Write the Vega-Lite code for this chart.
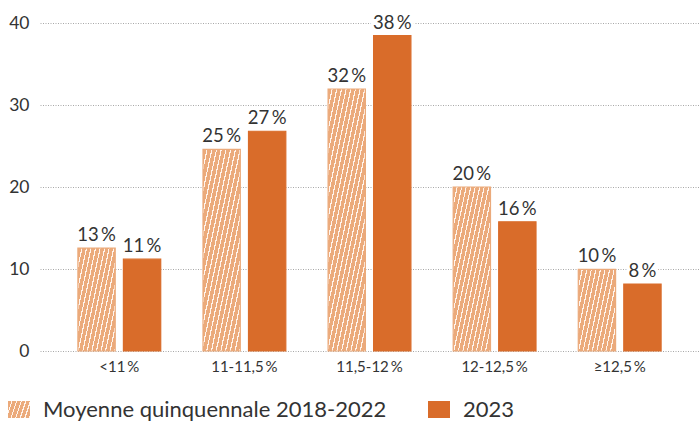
{
  "$schema": "https://vega.github.io/schema/vega-lite/v6.json",
  "autosize": {"type": "none"},
  "width": 659,
  "height": 328,
  "padding": {"left": 40, "top": 23, "right": 0, "bottom": 77},
  "background": "#ffffff",
  "config": {
    "font": "Lato",
    "view": {"stroke": null}
  },
  "data": {
    "values": [
      {"cat": "<11\u2009%", "serie": "Moyenne quinquennale 2018-2022", "v": 12.55, "label": "13\u2009%"},
      {"cat": "<11\u2009%", "serie": "2023", "v": 11.2, "label": "11\u2009%"},
      {"cat": "11-11,5\u2009%", "serie": "Moyenne quinquennale 2018-2022", "v": 24.6, "label": "25\u2009%"},
      {"cat": "11-11,5\u2009%", "serie": "2023", "v": 26.8, "label": "27\u2009%"},
      {"cat": "11,5-12\u2009%", "serie": "Moyenne quinquennale 2018-2022", "v": 31.95, "label": "32\u2009%"},
      {"cat": "11,5-12\u2009%", "serie": "2023", "v": 38.45, "label": "38\u2009%"},
      {"cat": "12-12,5\u2009%", "serie": "Moyenne quinquennale 2018-2022", "v": 20.0, "label": "20\u2009%"},
      {"cat": "12-12,5\u2009%", "serie": "2023", "v": 15.75, "label": "16\u2009%"},
      {"cat": "≥12,5\u2009%", "serie": "Moyenne quinquennale 2018-2022", "v": 9.96, "label": "10\u2009%"},
      {"cat": "≥12,5\u2009%", "serie": "2023", "v": 8.17, "label": "8\u2009%"}
    ]
  },
  "encoding": {
    "x": {
      "field": "cat", "type": "nominal", "sort": null,
      "scale": {"paddingInner": 0.338, "paddingOuter": 0.303},
      "axis": {"title": null, "domain": false, "ticks": false, "labelAngle": 0, "labelFontSize": 15, "labelColor": "#333333", "labelPadding": 8}
    },
    "xOffset": {
      "field": "serie", "type": "nominal", "sort": ["Moyenne quinquennale 2018-2022", "2023"],
      "scale": {"paddingInner": 0.18}
    },
    "y": {
      "field": "v", "type": "quantitative",
      "scale": {"domain": [0, 40], "nice": false},
      "axis": {"title": null, "domain": false, "ticks": false, "values": [0, 10, 20, 30, 40], "labelFontSize": 17.5, "labelColor": "#333333", "labelPadding": 11, "gridColor": "#a8a8a8", "gridDash": [1, 1.5], "gridWidth": 1}
    }
  },
  "layer": [
    {
      "mark": {"type": "bar", "strokeWidth": 1.2},
      "encoding": {
        "fill": {
          "condition": [
            {
              "test": "false",
              "value": {
                "gradient": "linear", "x1": 0, "y1": 0, "x2": 1.18, "y2": 0.305,
                "stops": [
                  {"offset": 0, "color": "#EBAA7B"}, {"offset": 0.125, "color": "#EBAA7B"}, {"offset": 0.125, "color": "#FFF4EC"}, {"offset": 0.1667, "color": "#FFF4EC"},
                  {"offset": 0.1667, "color": "#EBAA7B"}, {"offset": 0.2917, "color": "#EBAA7B"}, {"offset": 0.2917, "color": "#FFF4EC"}, {"offset": 0.3333, "color": "#FFF4EC"},
                  {"offset": 0.3333, "color": "#EBAA7B"}, {"offset": 0.4583, "color": "#EBAA7B"}, {"offset": 0.4583, "color": "#FFF4EC"}, {"offset": 0.5, "color": "#FFF4EC"},
                  {"offset": 0.5, "color": "#EBAA7B"}, {"offset": 0.625, "color": "#EBAA7B"}, {"offset": 0.625, "color": "#FFF4EC"}, {"offset": 0.6667, "color": "#FFF4EC"},
                  {"offset": 0.6667, "color": "#EBAA7B"}, {"offset": 0.7917, "color": "#EBAA7B"}, {"offset": 0.7917, "color": "#FFF4EC"}, {"offset": 0.8333, "color": "#FFF4EC"},
                  {"offset": 0.8333, "color": "#EBAA7B"}, {"offset": 0.9583, "color": "#EBAA7B"}, {"offset": 0.9583, "color": "#FFF4EC"}, {"offset": 1, "color": "#FFF4EC"}
                ]
              }
            },
            {
              "test": "datum.label === '10\u2009%'",
              "value": {
                "gradient": "linear", "x1": 0, "y1": 0, "x2": 1.2044, "y2": 0.5613,
                "stops": [
                  {"offset": 0, "color": "#EBAA7B"}, {"offset": 0.0625, "color": "#EBAA7B"}, {"offset": 0.0625, "color": "#FFF4EC"}, {"offset": 0.08333, "color": "#FFF4EC"},
                  {"offset": 0.08333, "color": "#EBAA7B"}, {"offset": 0.14583, "color": "#EBAA7B"}, {"offset": 0.14583, "color": "#FFF4EC"}, {"offset": 0.16667, "color": "#FFF4EC"},
                  {"offset": 0.16667, "color": "#EBAA7B"}, {"offset": 0.22917, "color": "#EBAA7B"}, {"offset": 0.22917, "color": "#FFF4EC"}, {"offset": 0.25, "color": "#FFF4EC"},
                  {"offset": 0.25, "color": "#EBAA7B"}, {"offset": 0.3125, "color": "#EBAA7B"}, {"offset": 0.3125, "color": "#FFF4EC"}, {"offset": 0.33333, "color": "#FFF4EC"},
                  {"offset": 0.33333, "color": "#EBAA7B"}, {"offset": 0.39583, "color": "#EBAA7B"}, {"offset": 0.39583, "color": "#FFF4EC"}, {"offset": 0.41667, "color": "#FFF4EC"},
                  {"offset": 0.41667, "color": "#EBAA7B"}, {"offset": 0.47917, "color": "#EBAA7B"}, {"offset": 0.47917, "color": "#FFF4EC"}, {"offset": 0.5, "color": "#FFF4EC"},
                  {"offset": 0.5, "color": "#EBAA7B"}, {"offset": 0.5625, "color": "#EBAA7B"}, {"offset": 0.5625, "color": "#FFF4EC"}, {"offset": 0.58333, "color": "#FFF4EC"},
                  {"offset": 0.58333, "color": "#EBAA7B"}, {"offset": 0.64583, "color": "#EBAA7B"}, {"offset": 0.64583, "color": "#FFF4EC"}, {"offset": 0.66667, "color": "#FFF4EC"},
                  {"offset": 0.66667, "color": "#EBAA7B"}, {"offset": 0.72917, "color": "#EBAA7B"}, {"offset": 0.72917, "color": "#FFF4EC"}, {"offset": 0.75, "color": "#FFF4EC"},
                  {"offset": 0.75, "color": "#EBAA7B"}, {"offset": 0.8125, "color": "#EBAA7B"}, {"offset": 0.8125, "color": "#FFF4EC"}, {"offset": 0.83333, "color": "#FFF4EC"},
                  {"offset": 0.83333, "color": "#EBAA7B"}, {"offset": 0.89583, "color": "#EBAA7B"}, {"offset": 0.89583, "color": "#FFF4EC"}, {"offset": 0.91667, "color": "#FFF4EC"},
                  {"offset": 0.91667, "color": "#EBAA7B"}, {"offset": 0.97917, "color": "#EBAA7B"}, {"offset": 0.97917, "color": "#FFF4EC"}, {"offset": 1, "color": "#FFF4EC"}
                ]
              }
            },
            {
              "test": "datum.label === '13\u2009%'",
              "value": {
                "gradient": "linear", "x1": 0, "y1": 0, "x2": 1.1803, "y2": 0.6928,
                "stops": [
                  {"offset": 0, "color": "#EBAA7B"}, {"offset": 0.05769, "color": "#EBAA7B"}, {"offset": 0.05769, "color": "#FFF4EC"}, {"offset": 0.07692, "color": "#FFF4EC"},
                  {"offset": 0.07692, "color": "#EBAA7B"}, {"offset": 0.13462, "color": "#EBAA7B"}, {"offset": 0.13462, "color": "#FFF4EC"}, {"offset": 0.15385, "color": "#FFF4EC"},
                  {"offset": 0.15385, "color": "#EBAA7B"}, {"offset": 0.21154, "color": "#EBAA7B"}, {"offset": 0.21154, "color": "#FFF4EC"}, {"offset": 0.23077, "color": "#FFF4EC"},
                  {"offset": 0.23077, "color": "#EBAA7B"}, {"offset": 0.28846, "color": "#EBAA7B"}, {"offset": 0.28846, "color": "#FFF4EC"}, {"offset": 0.30769, "color": "#FFF4EC"},
                  {"offset": 0.30769, "color": "#EBAA7B"}, {"offset": 0.36538, "color": "#EBAA7B"}, {"offset": 0.36538, "color": "#FFF4EC"}, {"offset": 0.38462, "color": "#FFF4EC"},
                  {"offset": 0.38462, "color": "#EBAA7B"}, {"offset": 0.44231, "color": "#EBAA7B"}, {"offset": 0.44231, "color": "#FFF4EC"}, {"offset": 0.46154, "color": "#FFF4EC"},
                  {"offset": 0.46154, "color": "#EBAA7B"}, {"offset": 0.51923, "color": "#EBAA7B"}, {"offset": 0.51923, "color": "#FFF4EC"}, {"offset": 0.53846, "color": "#FFF4EC"},
                  {"offset": 0.53846, "color": "#EBAA7B"}, {"offset": 0.59615, "color": "#EBAA7B"}, {"offset": 0.59615, "color": "#FFF4EC"}, {"offset": 0.61538, "color": "#FFF4EC"},
                  {"offset": 0.61538, "color": "#EBAA7B"}, {"offset": 0.67308, "color": "#EBAA7B"}, {"offset": 0.67308, "color": "#FFF4EC"}, {"offset": 0.69231, "color": "#FFF4EC"},
                  {"offset": 0.69231, "color": "#EBAA7B"}, {"offset": 0.75, "color": "#EBAA7B"}, {"offset": 0.75, "color": "#FFF4EC"}, {"offset": 0.76923, "color": "#FFF4EC"},
                  {"offset": 0.76923, "color": "#EBAA7B"}, {"offset": 0.82692, "color": "#EBAA7B"}, {"offset": 0.82692, "color": "#FFF4EC"}, {"offset": 0.84615, "color": "#FFF4EC"},
                  {"offset": 0.84615, "color": "#EBAA7B"}, {"offset": 0.90385, "color": "#EBAA7B"}, {"offset": 0.90385, "color": "#FFF4EC"}, {"offset": 0.92308, "color": "#FFF4EC"},
                  {"offset": 0.92308, "color": "#EBAA7B"}, {"offset": 0.98077, "color": "#EBAA7B"}, {"offset": 0.98077, "color": "#FFF4EC"}, {"offset": 1, "color": "#FFF4EC"}
                ]
              }
            },
            {
              "test": "datum.label === '20\u2009%'",
              "value": {
                "gradient": "linear", "x1": 0, "y1": 0, "x2": 1.0319, "y2": 0.9659,
                "stops": [
                  {"offset": 0, "color": "#EBAA7B"}, {"offset": 0.046875, "color": "#EBAA7B"}, {"offset": 0.046875, "color": "#FFF4EC"}, {"offset": 0.0625, "color": "#FFF4EC"},
                  {"offset": 0.0625, "color": "#EBAA7B"}, {"offset": 0.109375, "color": "#EBAA7B"}, {"offset": 0.109375, "color": "#FFF4EC"}, {"offset": 0.125, "color": "#FFF4EC"},
                  {"offset": 0.125, "color": "#EBAA7B"}, {"offset": 0.171875, "color": "#EBAA7B"}, {"offset": 0.171875, "color": "#FFF4EC"}, {"offset": 0.1875, "color": "#FFF4EC"},
                  {"offset": 0.1875, "color": "#EBAA7B"}, {"offset": 0.234375, "color": "#EBAA7B"}, {"offset": 0.234375, "color": "#FFF4EC"}, {"offset": 0.25, "color": "#FFF4EC"},
                  {"offset": 0.25, "color": "#EBAA7B"}, {"offset": 0.296875, "color": "#EBAA7B"}, {"offset": 0.296875, "color": "#FFF4EC"}, {"offset": 0.3125, "color": "#FFF4EC"},
                  {"offset": 0.3125, "color": "#EBAA7B"}, {"offset": 0.359375, "color": "#EBAA7B"}, {"offset": 0.359375, "color": "#FFF4EC"}, {"offset": 0.375, "color": "#FFF4EC"},
                  {"offset": 0.375, "color": "#EBAA7B"}, {"offset": 0.421875, "color": "#EBAA7B"}, {"offset": 0.421875, "color": "#FFF4EC"}, {"offset": 0.4375, "color": "#FFF4EC"},
                  {"offset": 0.4375, "color": "#EBAA7B"}, {"offset": 0.484375, "color": "#EBAA7B"}, {"offset": 0.484375, "color": "#FFF4EC"}, {"offset": 0.5, "color": "#FFF4EC"},
                  {"offset": 0.5, "color": "#EBAA7B"}, {"offset": 0.546875, "color": "#EBAA7B"}, {"offset": 0.546875, "color": "#FFF4EC"}, {"offset": 0.5625, "color": "#FFF4EC"},
                  {"offset": 0.5625, "color": "#EBAA7B"}, {"offset": 0.609375, "color": "#EBAA7B"}, {"offset": 0.609375, "color": "#FFF4EC"}, {"offset": 0.625, "color": "#FFF4EC"},
                  {"offset": 0.625, "color": "#EBAA7B"}, {"offset": 0.671875, "color": "#EBAA7B"}, {"offset": 0.671875, "color": "#FFF4EC"}, {"offset": 0.6875, "color": "#FFF4EC"},
                  {"offset": 0.6875, "color": "#EBAA7B"}, {"offset": 0.734375, "color": "#EBAA7B"}, {"offset": 0.734375, "color": "#FFF4EC"}, {"offset": 0.75, "color": "#FFF4EC"},
                  {"offset": 0.75, "color": "#EBAA7B"}, {"offset": 0.796875, "color": "#EBAA7B"}, {"offset": 0.796875, "color": "#FFF4EC"}, {"offset": 0.8125, "color": "#FFF4EC"},
                  {"offset": 0.8125, "color": "#EBAA7B"}, {"offset": 0.859375, "color": "#EBAA7B"}, {"offset": 0.859375, "color": "#FFF4EC"}, {"offset": 0.875, "color": "#FFF4EC"},
                  {"offset": 0.875, "color": "#EBAA7B"}, {"offset": 0.921875, "color": "#EBAA7B"}, {"offset": 0.921875, "color": "#FFF4EC"}, {"offset": 0.9375, "color": "#FFF4EC"},
                  {"offset": 0.9375, "color": "#EBAA7B"}, {"offset": 0.984375, "color": "#EBAA7B"}, {"offset": 0.984375, "color": "#FFF4EC"}, {"offset": 1, "color": "#FFF4EC"}
                ]
              }
            },
            {
              "test": "datum.label === '25\u2009%'",
              "value": {
                "gradient": "linear", "x1": 0, "y1": 0, "x2": 0.9252, "y2": 1.0649,
                "stops": [
                  {"offset": 0, "color": "#EBAA7B"}, {"offset": 0.04412, "color": "#EBAA7B"}, {"offset": 0.04412, "color": "#FFF4EC"}, {"offset": 0.05882, "color": "#FFF4EC"},
                  {"offset": 0.05882, "color": "#EBAA7B"}, {"offset": 0.10294, "color": "#EBAA7B"}, {"offset": 0.10294, "color": "#FFF4EC"}, {"offset": 0.11765, "color": "#FFF4EC"},
                  {"offset": 0.11765, "color": "#EBAA7B"}, {"offset": 0.16176, "color": "#EBAA7B"}, {"offset": 0.16176, "color": "#FFF4EC"}, {"offset": 0.17647, "color": "#FFF4EC"},
                  {"offset": 0.17647, "color": "#EBAA7B"}, {"offset": 0.22059, "color": "#EBAA7B"}, {"offset": 0.22059, "color": "#FFF4EC"}, {"offset": 0.23529, "color": "#FFF4EC"},
                  {"offset": 0.23529, "color": "#EBAA7B"}, {"offset": 0.27941, "color": "#EBAA7B"}, {"offset": 0.27941, "color": "#FFF4EC"}, {"offset": 0.29412, "color": "#FFF4EC"},
                  {"offset": 0.29412, "color": "#EBAA7B"}, {"offset": 0.33824, "color": "#EBAA7B"}, {"offset": 0.33824, "color": "#FFF4EC"}, {"offset": 0.35294, "color": "#FFF4EC"},
                  {"offset": 0.35294, "color": "#EBAA7B"}, {"offset": 0.39706, "color": "#EBAA7B"}, {"offset": 0.39706, "color": "#FFF4EC"}, {"offset": 0.41176, "color": "#FFF4EC"},
                  {"offset": 0.41176, "color": "#EBAA7B"}, {"offset": 0.45588, "color": "#EBAA7B"}, {"offset": 0.45588, "color": "#FFF4EC"}, {"offset": 0.47059, "color": "#FFF4EC"},
                  {"offset": 0.47059, "color": "#EBAA7B"}, {"offset": 0.51471, "color": "#EBAA7B"}, {"offset": 0.51471, "color": "#FFF4EC"}, {"offset": 0.52941, "color": "#FFF4EC"},
                  {"offset": 0.52941, "color": "#EBAA7B"}, {"offset": 0.57353, "color": "#EBAA7B"}, {"offset": 0.57353, "color": "#FFF4EC"}, {"offset": 0.58824, "color": "#FFF4EC"},
                  {"offset": 0.58824, "color": "#EBAA7B"}, {"offset": 0.63235, "color": "#EBAA7B"}, {"offset": 0.63235, "color": "#FFF4EC"}, {"offset": 0.64706, "color": "#FFF4EC"},
                  {"offset": 0.64706, "color": "#EBAA7B"}, {"offset": 0.69118, "color": "#EBAA7B"}, {"offset": 0.69118, "color": "#FFF4EC"}, {"offset": 0.70588, "color": "#FFF4EC"},
                  {"offset": 0.70588, "color": "#EBAA7B"}, {"offset": 0.75, "color": "#EBAA7B"}, {"offset": 0.75, "color": "#FFF4EC"}, {"offset": 0.76471, "color": "#FFF4EC"},
                  {"offset": 0.76471, "color": "#EBAA7B"}, {"offset": 0.80882, "color": "#EBAA7B"}, {"offset": 0.80882, "color": "#FFF4EC"}, {"offset": 0.82353, "color": "#FFF4EC"},
                  {"offset": 0.82353, "color": "#EBAA7B"}, {"offset": 0.86765, "color": "#EBAA7B"}, {"offset": 0.86765, "color": "#FFF4EC"}, {"offset": 0.88235, "color": "#FFF4EC"},
                  {"offset": 0.88235, "color": "#EBAA7B"}, {"offset": 0.92647, "color": "#EBAA7B"}, {"offset": 0.92647, "color": "#FFF4EC"}, {"offset": 0.94118, "color": "#FFF4EC"},
                  {"offset": 0.94118, "color": "#EBAA7B"}, {"offset": 0.98529, "color": "#EBAA7B"}, {"offset": 0.98529, "color": "#FFF4EC"}, {"offset": 1, "color": "#FFF4EC"}
                ]
              }
            },
            {
              "test": "datum.label === '32\u2009%'",
              "value": {
                "gradient": "linear", "x1": 0, "y1": 0, "x2": 0.7713, "y2": 1.1531,
                "stops": [
                  {"offset": 0, "color": "#EBAA7B"}, {"offset": 0.0375, "color": "#EBAA7B"}, {"offset": 0.0375, "color": "#FFF4EC"}, {"offset": 0.05, "color": "#FFF4EC"},
                  {"offset": 0.05, "color": "#EBAA7B"}, {"offset": 0.0875, "color": "#EBAA7B"}, {"offset": 0.0875, "color": "#FFF4EC"}, {"offset": 0.1, "color": "#FFF4EC"},
                  {"offset": 0.1, "color": "#EBAA7B"}, {"offset": 0.1375, "color": "#EBAA7B"}, {"offset": 0.1375, "color": "#FFF4EC"}, {"offset": 0.15, "color": "#FFF4EC"},
                  {"offset": 0.15, "color": "#EBAA7B"}, {"offset": 0.1875, "color": "#EBAA7B"}, {"offset": 0.1875, "color": "#FFF4EC"}, {"offset": 0.2, "color": "#FFF4EC"},
                  {"offset": 0.2, "color": "#EBAA7B"}, {"offset": 0.2375, "color": "#EBAA7B"}, {"offset": 0.2375, "color": "#FFF4EC"}, {"offset": 0.25, "color": "#FFF4EC"},
                  {"offset": 0.25, "color": "#EBAA7B"}, {"offset": 0.2875, "color": "#EBAA7B"}, {"offset": 0.2875, "color": "#FFF4EC"}, {"offset": 0.3, "color": "#FFF4EC"},
                  {"offset": 0.3, "color": "#EBAA7B"}, {"offset": 0.3375, "color": "#EBAA7B"}, {"offset": 0.3375, "color": "#FFF4EC"}, {"offset": 0.35, "color": "#FFF4EC"},
                  {"offset": 0.35, "color": "#EBAA7B"}, {"offset": 0.3875, "color": "#EBAA7B"}, {"offset": 0.3875, "color": "#FFF4EC"}, {"offset": 0.4, "color": "#FFF4EC"},
                  {"offset": 0.4, "color": "#EBAA7B"}, {"offset": 0.4375, "color": "#EBAA7B"}, {"offset": 0.4375, "color": "#FFF4EC"}, {"offset": 0.45, "color": "#FFF4EC"},
                  {"offset": 0.45, "color": "#EBAA7B"}, {"offset": 0.4875, "color": "#EBAA7B"}, {"offset": 0.4875, "color": "#FFF4EC"}, {"offset": 0.5, "color": "#FFF4EC"},
                  {"offset": 0.5, "color": "#EBAA7B"}, {"offset": 0.5375, "color": "#EBAA7B"}, {"offset": 0.5375, "color": "#FFF4EC"}, {"offset": 0.55, "color": "#FFF4EC"},
                  {"offset": 0.55, "color": "#EBAA7B"}, {"offset": 0.5875, "color": "#EBAA7B"}, {"offset": 0.5875, "color": "#FFF4EC"}, {"offset": 0.6, "color": "#FFF4EC"},
                  {"offset": 0.6, "color": "#EBAA7B"}, {"offset": 0.6375, "color": "#EBAA7B"}, {"offset": 0.6375, "color": "#FFF4EC"}, {"offset": 0.65, "color": "#FFF4EC"},
                  {"offset": 0.65, "color": "#EBAA7B"}, {"offset": 0.6875, "color": "#EBAA7B"}, {"offset": 0.6875, "color": "#FFF4EC"}, {"offset": 0.7, "color": "#FFF4EC"},
                  {"offset": 0.7, "color": "#EBAA7B"}, {"offset": 0.7375, "color": "#EBAA7B"}, {"offset": 0.7375, "color": "#FFF4EC"}, {"offset": 0.75, "color": "#FFF4EC"},
                  {"offset": 0.75, "color": "#EBAA7B"}, {"offset": 0.7875, "color": "#EBAA7B"}, {"offset": 0.7875, "color": "#FFF4EC"}, {"offset": 0.8, "color": "#FFF4EC"},
                  {"offset": 0.8, "color": "#EBAA7B"}, {"offset": 0.8375, "color": "#EBAA7B"}, {"offset": 0.8375, "color": "#FFF4EC"}, {"offset": 0.85, "color": "#FFF4EC"},
                  {"offset": 0.85, "color": "#EBAA7B"}, {"offset": 0.8875, "color": "#EBAA7B"}, {"offset": 0.8875, "color": "#FFF4EC"}, {"offset": 0.9, "color": "#FFF4EC"},
                  {"offset": 0.9, "color": "#EBAA7B"}, {"offset": 0.9375, "color": "#EBAA7B"}, {"offset": 0.9375, "color": "#FFF4EC"}, {"offset": 0.95, "color": "#FFF4EC"},
                  {"offset": 0.95, "color": "#EBAA7B"}, {"offset": 0.9875, "color": "#EBAA7B"}, {"offset": 0.9875, "color": "#FFF4EC"}, {"offset": 1, "color": "#FFF4EC"}
                ]
              }
            }
          ],
          "field": "serie", "type": "nominal",
          "scale": {"domain": ["Moyenne quinquennale 2018-2022", "2023"], "range": ["#EBAA7B", "#D96C2A"]},
          "legend": {
            "title": null, "orient": "none", "direction": "horizontal",
            "values": ["2023"],
            "legendX": 388, "legendY": 375.5,
            "symbolType": "M-1,-0.773L1,-0.773L1,0.773L-1,0.773Z",
            "symbolSize": 484, "symbolStrokeWidth": 0, "symbolOpacity": 1,
            "labelFontSize": 22, "labelColor": "#333333", "labelOffset": 13, "labelLimit": 500,
            "padding": 0
          }
        },
        "stroke": {
          "field": "serie", "type": "nominal",
          "scale": {"domain": ["2023", "Moyenne quinquennale 2018-2022"], "range": ["#D96C2A", "#EBAA7B"]},
          "legend": {
            "title": null, "orient": "none", "direction": "horizontal",
            "values": ["Moyenne quinquennale 2018-2022"],
            "legendX": -32, "legendY": 375.5,
            "symbolType": "M-1,-0.773L1,-0.773L1,0.773L-1,0.773Z",
            "symbolSize": 484, "symbolStrokeWidth": 0, "symbolOpacity": 1,
            "labelFontSize": 22, "labelColor": "#333333", "labelOffset": 13, "labelLimit": 500,
            "padding": 0
          }
        }
      }
    },
    {
      "mark": {"type": "text", "fontSize": 18.5, "baseline": "alphabetic", "dy": -7, "stroke": "#ffffff", "strokeWidth": 7, "strokeJoin": "round", "fill": "#ffffff"},
      "encoding": {"text": {"field": "label"}}
    },
    {
      "mark": {"type": "text", "fontSize": 18.5, "baseline": "alphabetic", "dy": -7, "fill": "#333333"},
      "encoding": {"text": {"field": "label"}}
    }
  ]
}
